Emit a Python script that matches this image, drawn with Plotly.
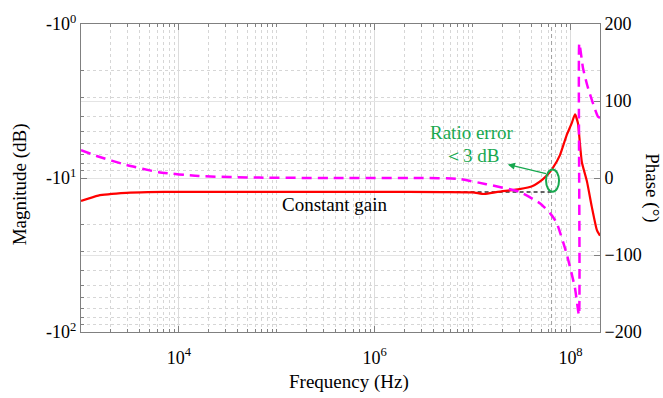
import math
import plotly.graph_objects as go

# ---------------- data ----------------
mag_freq = [1.0e3, 1.5e3, 2.9e3, 4.8e3, 1e4, 1e5, 1e6, 5e6, 1.0e7, 1.32e7, 1.8e7,
            3.0e7, 4.1e7, 5.2e7, 5.85e7, 6.6e7, 7.8e7, 9.1e7, 1.03e8, 1.11e8,
            1.19e8, 1.245e8, 1.306e8, 1.47e8, 1.65e8, 1.86e8, 2.0e8]
mag_db = [-14.1, -13.0, -12.5, -12.35, -12.3, -12.3, -12.3, -12.35, -12.4, -12.7, -12.3,
          -11.8, -11.26, -10.2, -9.5, -8.6, -7.1, -5.3, -4.4, -3.86,
          -4.4, -5.9, -7.9, -10.5, -15.4, -21.8, -23.7]

phase_freq = [1.0e3, 1.5e3, 2.9e3, 6.2e3, 1.6e4, 6.6e4, 4.4e5, 2.9e6, 7e6, 1.38e7,
              3.0e7, 4.9e7, 6.2e7, 7.2e7, 9.2e7, 1.11e8, 1.22e8, 1.23e8, 1.34e8,
              1.5e8, 1.9e8, 2.0e8]
phase_deg = [36, 28, 17, 7.6, 2.5, 0.5, 0, 0, -1, -8,
             -18, -33, -46, -58, -100, -143, -178, 175, 143,
             118, 80, 78]

const_freq = [4.9e3, 6.6e7]
const_db = [-12.35, -12.35]

vline_freq = 6.4e7
ellipse_freq = 6.55e7
ellipse_db = -10.4

x_ticks = [1e4, 1e6, 1e8]
x_ticktext = ["10<sup>4</sup>", "10<sup>6</sup>", "10<sup>8</sup>"]
y_ticks = [1, 10, 100]
y_ticktext = ["-10<sup>0</sup>", "-10<sup>1</sup>", "-10<sup>2</sup>"]
y2_ticks = [-200, -100, 0, 100, 200]

X_RANGE = [3, math.log10(2e8)]
Y_RANGE = [2, 0]

FONT = "Liberation Serif, Times New Roman, serif"
GREEN = "#17a84f"
AXC = "#808080"

x_minor = [k * 10 ** n for n in range(3, 9) for k in range(1, 10)
           if k * 10 ** n <= 2e8 and k * 10 ** n not in x_ticks]
y_minor = [k * 10 ** n for n in range(0, 2) for k in range(2, 10)]


def xdom(f):
    return (math.log10(f) - X_RANGE[0]) / (X_RANGE[1] - X_RANGE[0])


def ydom(db):
    v = math.log10(-db)
    return (v - Y_RANGE[0]) / (Y_RANGE[1] - Y_RANGE[0])


def px(x, y):
    return dict(xref="paper", yref="paper", x=(x - 81) / 519, y=(332 - y) / 317,
                xanchor="center", yanchor="middle")


fig = go.Figure()

fig.add_trace(go.Scatter(x=[vline_freq, vline_freq], y=[-200, 200], yaxis="y2", mode="lines",
                         line=dict(color="#a0a0a0", width=1, dash="4px,3px"), hoverinfo="skip"))
fig.add_trace(go.Scatter(x=const_freq, y=[-v for v in const_db], mode="lines",
                         line=dict(color="#333333", width=1.5, dash="4px,3px")))
fig.add_trace(go.Scatter(x=phase_freq, y=phase_deg, yaxis="y2", mode="lines",
                         line=dict(color="#ff00ff", width=2.5, dash="10px,6px", shape="spline", smoothing=0.5)))
fig.add_trace(go.Scatter(x=mag_freq, y=[-v for v in mag_db], mode="lines",
                         line=dict(color="#ff0000", width=2.2, shape="spline", smoothing=0.5)))

# ellipse around the ratio-error point
cx, cy = xdom(ellipse_freq), ydom(ellipse_db)
hw, hh = 6.5 / 519, 11.5 / 317
fig.add_shape(type="circle", xref="x domain", yref="y domain",
              x0=cx - hw, x1=cx + hw, y0=cy - hh, y1=cy + hh,
              line=dict(color=GREEN, width=2))

fig.add_annotation(**px(472, 127), text="Ratio error", showarrow=False,
                   font=dict(family=FONT, size=19, color=GREEN))
# "< 3 dB" text with arrow coming from the ellipse towards the text
fig.add_annotation(xref="paper", yref="paper", x=(546 - 81) / 519, y=(332 - 169) / 317,
                   ax=-75, ay=-18, text="＜3 dB", showarrow=True,
                   arrowside="start", arrowhead=2, startarrowhead=2, startarrowsize=1.1,
                   arrowwidth=1.3, arrowcolor=GREEN, startstandoff=8,
                   font=dict(family=FONT, size=19, color=GREEN))

fig.add_annotation(**px(335, 201), text="Constant gain", showarrow=False,
                   font=dict(family=FONT, size=19, color="black"))

# axis titles
fig.add_annotation(**px(349, 383), text="Frequency (Hz)", showarrow=False,
                   font=dict(family=FONT, size=19, color="black"))
fig.add_annotation(**px(20, 180), text="Magnitude (dB)", textangle=-90, showarrow=False,
                   font=dict(family=FONT, size=19, color="black"))
fig.add_annotation(**px(652, 183), text="Phase (°)", textangle=90, showarrow=False,
                   font=dict(family=FONT, size=19, color="black"))

fig.update_layout(
    width=663, height=398, margin=dict(l=81, r=63, t=15, b=66),
    paper_bgcolor="white", plot_bgcolor="white", showlegend=False,
    font=dict(family=FONT, size=18, color="black"),
    xaxis=dict(type="log", range=X_RANGE, tickmode="array", tickvals=x_ticks, ticktext=x_ticktext,
               showline=True, linecolor=AXC, linewidth=1, mirror="ticks",
               ticks="inside", ticklen=6, tickcolor=AXC, ticklabelstandoff=9,
               showgrid=True, gridcolor="#dcdcdc", gridwidth=1, zeroline=False,
               minor=dict(tickmode="array", tickvals=x_minor, ticks="inside", ticklen=3, tickcolor=AXC,
                          showgrid=True, gridcolor="#d6d6d6", griddash="dot", gridwidth=1)),
    yaxis=dict(type="log", range=Y_RANGE, tickmode="array", tickvals=y_ticks, ticktext=y_ticktext,
               showline=True, linecolor=AXC, linewidth=1, ticks="inside", ticklen=6, tickcolor=AXC,
               showgrid=True, gridcolor="#dcdcdc", zeroline=False,
               minor=dict(tickmode="array", tickvals=y_minor, ticks="inside", ticklen=3, tickcolor=AXC,
                          showgrid=True, gridcolor="#d6d6d6", griddash="dot", gridwidth=1)),
    yaxis2=dict(overlaying="y", side="right", range=[-200, 200], tickmode="array", tickvals=y2_ticks,
                showline=True, linecolor=AXC, linewidth=1, ticks="inside", ticklen=6, tickcolor=AXC,
                showgrid=True, gridcolor="#e4e4e4", zeroline=False),
)

fig.write_html("out.html")
